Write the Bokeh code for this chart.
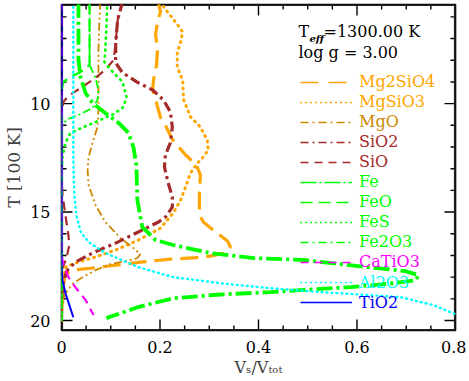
import numpy as np
from bokeh.plotting import figure
from bokeh.models import Range1d, FixedTicker, Label, Legend, LegendItem
from bokeh.embed import file_html
from bokeh.resources import INLINE

# ---------------- data (volume fraction Vs/Vtot vs T [100 K]) ----------------
mg2sio4_x = [0.195,0.201,0.195,0.191,0.195,0.193,0.187,0.185,0.191,0.201,0.213,0.225,0.252,0.274,0.282,0.280,0.280,0.288,0.313,0.337,0.343,0.331,0.302,0.272,0.221,0.160,0.110,0.059,0.022,0.008,0.002,0.000,0.000]
mg2sio4_T = [5.2,5.76,6.22,6.82,7.51,8.20,8.89,9.35,9.81,10.64,11.09,11.65,12.37,12.83,13.29,14.21,15.13,15.46,15.92,16.33,16.61,16.89,17.03,17.10,17.17,17.31,17.45,17.59,17.68,17.86,18.60,19.66,20.0]

mgsio3_x = [0.199,0.225,0.246,0.242,0.235,0.235,0.246,0.248,0.262,0.282,0.296,0.298,0.288,0.276,0.262,0.252,0.242,0.227,0.201,0.156,0.110,0.069,0.028,0.008,0.002,0.000,0.000]
mgsio3_T = [5.3,6.05,6.69,7.15,7.66,8.31,8.91,9.83,10.61,11.08,11.68,12.14,12.46,12.74,13.20,13.84,14.44,15.04,15.74,16.29,16.75,17.07,17.35,17.54,18.46,19.66,20.0]

mgo_x = [0.079,0.077,0.075,0.075,0.075,0.073,0.063,0.055,0.053,0.055,0.069,0.089,0.120,0.146,0.160,0.154,0.130,0.099,0.069,0.043,0.024,0.008,0.002,0.000]
mgo_T = [5.3,6.14,7.52,8.91,10.29,11.08,11.81,12.46,13.06,13.75,14.67,15.46,16.20,16.66,16.94,17.12,17.26,17.40,17.68,18.00,18.28,18.74,19.29,20.0]

sio2_x = [0.124,0.114,0.110,0.110,0.124,0.156,0.185,0.207,0.221,0.225,0.221,0.211,0.209,0.215,0.225,0.225,0.211,0.197,0.156,0.110,0.063,0.028,0.012,0.004,0.000,0.000]
sio2_T = [5.3,6.14,7.20,8.12,8.58,9.04,9.37,9.83,10.38,11.08,11.81,12.37,12.92,13.52,14.31,14.77,15.23,15.46,15.92,16.43,16.89,17.31,17.68,18.14,19.06,20.0]

sio_x = [0.124,0.114,0.110,0.106,0.089,0.069,0.039,0.014,0.004,0.000,0.000,0.002,0.008,0.014,0.016,0.010,0.002,0.000,0.000]
sio_T = [5.3,6.14,7.20,7.98,8.44,8.81,9.28,9.64,9.92,10.38,13.52,14.21,15.14,16.06,16.52,17.12,17.58,18.14,20.0]

fe_x = [0.0345,0.0345,0.0345,0.0386,0.0487,0.063,0.089,0.116,0.136,0.146,0.152,0.154,0.164,0.191,0.227,0.302,0.390,0.491,0.621,0.698,0.725,0.719,0.674,0.587,0.485,0.424,0.323,0.227,0.156,0.091]
fe_T = [5.3,6.60,7.98,8.77,9.51,9.97,10.43,10.89,11.35,12.00,12.83,14.44,15.69,16.29,16.52,16.89,17.12,17.21,17.54,17.72,17.91,18.14,18.28,18.46,18.60,18.69,18.80,18.97,19.38,19.89]

feo_x = [0.057,0.057,0.057,0.039,0.018,0.004,0.000,0.000]
feo_T = [5.3,7.0,8.22,8.54,8.77,9.00,9.37,20.0]

fes_x = [0.093,0.091,0.089,0.087,0.104,0.124,0.132,0.126,0.106,0.079,0.045,0.018,0.008,0.002,0.000,0.000]
fes_T = [5.3,6.60,7.52,8.08,8.54,9.00,9.69,10.15,10.48,10.75,11.08,11.35,11.81,12.46,13.29,20.0]

fe2o3_x = [0.057,0.057,0.069,0.075,0.073,0.063,0.039,0.014,0.002,0.000,0.000]
fe2o3_T = [5.3,8.22,8.81,9.37,9.83,10.20,10.48,10.71,10.94,11.44,20.0]

catio3_x = [0.000,0.000,0.004,0.014,0.028,0.049,0.065]
catio3_T = [5.3,16.98,17.44,18.00,18.46,19.06,19.75]

al2o3_x = [0.024,0.024,0.026,0.030,0.039,0.055,0.089,0.156,0.227,0.323,0.424,0.526,0.688,0.755,0.800,0.820]
al2o3_T = [5.3,12.60,14.12,15.14,15.92,16.38,16.89,17.54,18.00,18.28,18.51,18.69,18.92,19.29,19.71,19.99]

tio2_x = [0.000,0.000,0.002,0.008,0.016,0.024]
tio2_T = [5.3,17.60,18.14,18.74,19.29,19.85]

x_ticks = [0.0, 0.2, 0.4, 0.6, 0.8]
x_tick_labels = ["0", "0.2", "0.4", "0.6", "0.8"]
x_minor = [0.05, 0.1, 0.15, 0.25, 0.3, 0.35, 0.45, 0.5, 0.55, 0.65, 0.7, 0.75]
y_ticks = [10, 15, 20]
y_minor = [6, 7, 8, 9, 11, 12, 13, 14, 16, 17, 18, 19]

teff_text = "=1300.00 K"
logg_text = "log g = 3.00"
y_title = "T [100 K]"
x_title = "V\u209b/V\u209c\u2092\u209c"

# ---------------- styles ----------------
ORANGE = "#FFA500"
DKORANGE = "#CC8800"
BROWN = "#A52A2A"
GREEN = "#00FF00"
MAGENTA = "#FF00FF"
CYAN = "#00FFFF"
BLUE = "#0000FF"
FONT = "DejaVu Serif"

series = [
    ("Mg2SiO4", mg2sio4_x, mg2sio4_T, ORANGE, 3.2, "18 8", "butt"),
    ("MgSiO3", mgsio3_x, mgsio3_T, ORANGE, 3.0, "1 5", "round"),
    ("MgO", mgo_x, mgo_T, DKORANGE, 1.8, "8 3 2 3 2 3", "butt"),
    ("SiO2", sio2_x, sio2_T, BROWN, 3.2, "10 4 3 4", "butt"),
    ("SiO", sio_x, sio_T, BROWN, 2.2, "9 6", "butt"),
    ("Fe", fe_x, fe_T, GREEN, 3.8, "16 4 3 4", "butt"),
    ("FeO", feo_x, feo_T, GREEN, 2.2, "12 6", "butt"),
    ("FeS", fes_x, fes_T, GREEN, 2.6, "1 5", "round"),
    ("Fe2O3", fe2o3_x, fe2o3_T, GREEN, 1.8, "8 3 2 3", "butt"),
    ("CaTiO3", catio3_x, catio3_T, MAGENTA, 2.2, "9 6", "butt"),
    ("Al2O3", al2o3_x, al2o3_T, CYAN, 2.4, "1 4", "round"),
    ("TiO2", tio2_x, tio2_T, BLUE, 2.0, "solid", "butt"),
]
legend_dash = {"Mg2SiO4": "18 10", "MgSiO3": "1 4", "MgO": "8 4 2 4", "SiO2": "8 4 2 4",
               "SiO": "8 6", "Fe": "16 3 2 3", "FeO": "12 6", "FeS": "1 4", "Fe2O3": "8 4 2 4",
               "CaTiO3": "8 6", "Al2O3": "1 4", "TiO2": "solid"}

# page coordinates of the plotting frame
FL, FR, FT, FB = 61, 455, 4, 330
W, H = 466, 381
X0, X1 = 0.0, 0.8
Y0, Y1 = 20.46, 5.43
p = figure(width=W, height=H, output_backend="svg", toolbar_location=None,
           x_range=Range1d(X0, X1), y_range=Range1d(Y0, Y1),
           min_border_left=FL, min_border_right=W - FR, min_border_top=FT,
           min_border_bottom=H - FB)
p.xgrid.visible = False
p.ygrid.visible = False
p.outline_line_color = "black"
p.outline_line_width = 1.6
p.background_fill_color = "white"
p.border_fill_color = "white"

# ---- frame and inward ticks (line glyphs through the scales), drawn first ----
dxp = (X1 - X0) / (FR - FL)   # data units per pixel
dyp = (Y0 - Y1) / (FB - FT)
MAJ, MIN = 11, 5
tick_xs, tick_ys = [], []
for ticks, L in ((x_ticks, MAJ), (x_minor, MIN)):
    for t in ticks:
        tick_xs += [[t, t], [t, t]]
        tick_ys += [[Y0, Y0 - L * dyp], [Y1, Y1 + L * dyp]]
for ticks, L in ((y_ticks, MAJ), (y_minor, MIN)):
    for t in ticks:
        tick_xs += [[X0, X0 + L * dxp], [X1, X1 - L * dxp]]
        tick_ys += [[t, t], [t, t]]
p.multi_line(tick_xs, tick_ys, line_color="black", line_width=1.4)
p.line([X0, X1, X1, X0, X0], [Y0, Y0, Y1, Y1, Y0], line_color="#222222", line_width=3.2)

for name, xs, ts, col, lw, dash, cap in series:
    p.line(xs, ts, line_color=col, line_width=lw, line_dash=dash, line_cap=cap)

# axes (labels only)
def style_axis(ax, ticks):
    ax.ticker = FixedTicker(ticks=ticks, minor_ticks=[])
    ax.major_tick_in = 0
    ax.major_tick_out = 0
    ax.minor_tick_in = 0
    ax.minor_tick_out = 0
    ax.axis_line_color = None
    ax.major_tick_line_color = None
    ax.minor_tick_line_color = None
    ax.major_label_text_font = FONT
    ax.major_label_text_color = "black"
    ax.major_label_text_font_size = "16px"

xa = p.xaxis[0]
style_axis(xa, x_ticks)
xa.major_label_overrides = {t: l for t, l in zip(x_ticks, x_tick_labels)}
xa.major_label_standoff = 10
xa.axis_label = x_title
xa.axis_label_text_font = FONT
xa.axis_label_text_font_size = "16px"
xa.axis_label_text_font_style = "normal"
xa.axis_label_standoff = 2

ya = p.yaxis[0]
style_axis(ya, y_ticks)
ya.major_label_standoff = 11
ya.major_label_orientation = "horizontal"
ya.axis_label = y_title
ya.axis_label_text_font = FONT
ya.axis_label_text_font_size = "17px"
ya.axis_label_text_font_style = "normal"
ya.axis_label_standoff = 3

# legend: one legend per entry so each label has its own colour
for i, (name, xs, ts, col, lw, dash, cap) in enumerate(series):
    r = p.line([np.nan], [np.nan], line_color=col, line_width=1.3,
               line_dash=legend_dash[name], line_cap=cap)
    yc = 81.5 + 20.05 * i
    lg = Legend(items=[LegendItem(label=name, renderers=[r])],
                location=(300 - FL, FB - yc - 10),
                glyph_width=52, glyph_height=20, label_height=20,
                label_standoff=7, padding=0, margin=0, spacing=0,
                border_line_alpha=0, background_fill_alpha=0,
                label_text_color=col, label_text_font=FONT,
                label_text_font_size="16px")
    p.add_layout(lg, "center")

def lab(text, px, py, size="16px", style="normal", angle=0, align="left"):
    p.add_layout(Label(x=px - FL, y=FB - py, x_units="screen", y_units="screen",
                       text=text, text_font=FONT, text_font_size=size,
                       text_font_style=style, text_baseline="middle",
                       text_align=align, angle=angle, text_color="black"))

lab("T", 298, 31)
lab("eff", 309, 38, size="10px", style="bold italic")
lab(teff_text, 323, 31)
lab(logg_text, 298, 51.5)

open("out.html", "w").write(file_html(p, INLINE))
